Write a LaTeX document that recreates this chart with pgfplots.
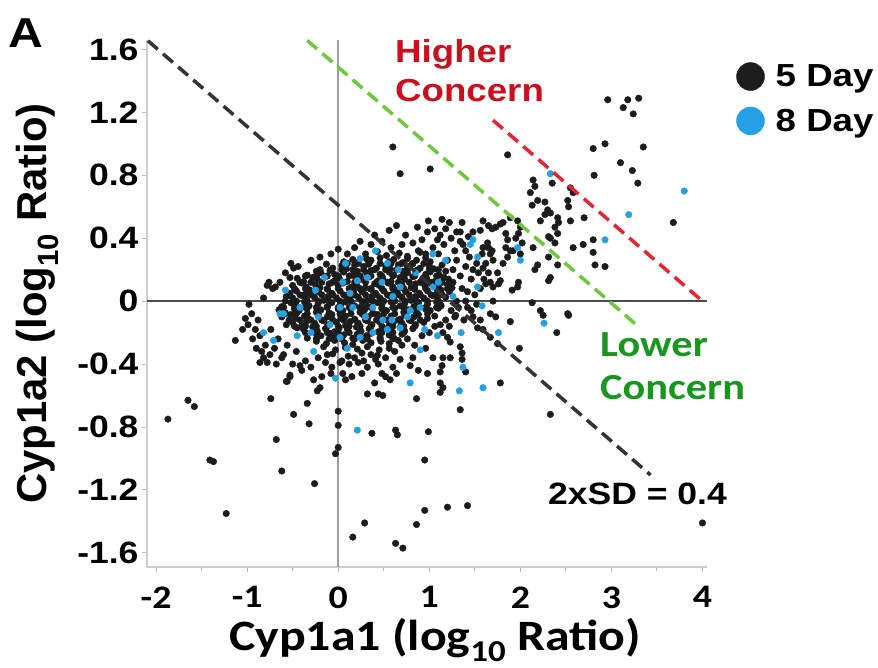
\documentclass[border=0pt]{standalone}
\usepackage{fontspec}
\usepackage{pgfplots}
\pgfplotsset{compat=1.18}
\setmainfont{Liberation Sans}
\newfontfamily\arialx[FakeStretch=1.15]{Liberation Sans}
\newfontfamily\calx[FakeStretch=1.15]{Carlito}
\newfontfamily\arialn{Liberation Sans}
\newcommand\fs[1]{\fontsize{#1}{#1}\selectfont}
\definecolor{dotblack}{RGB}{28,28,28}
\definecolor{dotblue}{RGB}{38,160,228}
\definecolor{refgreen}{RGB}{110,200,60}
\definecolor{refred}{RGB}{228,38,48}
\definecolor{txtred}{RGB}{200,16,30}
\definecolor{txtgreen}{RGB}{24,150,30}
\definecolor{axgray}{RGB}{205,205,205}

\begin{document}
\begin{tikzpicture}
\useasboundingbox (0,0) rectangle (878bp,668bp);
\begin{axis}[
    at={(147bp,101bp)}, anchor=south west,
    scale only axis, width=560bp, height=527bp,
    xmin=-2.1, xmax=4.05, ymin=-1.69, ymax=1.66,
    axis x line*=bottom, axis y line*=left,
    axis line style={-, draw=axgray, line width=1.5bp},
    tick style={draw=gray!55, line width=0.9bp},
    tick align=outside, major tick length=5bp, minor tick length=4bp,
    xtick={-2,-1,0,1,2,3,4}, xticklabels={-2,-1,0,1,2,3,4},
    minor x tick num=1,
    ytick={-1.6,-1.2,-0.8,-0.4,0,0.4,0.8,1.2,1.6},
    yticklabels={-1.6,-1.2,-0.8,-0.4,0,0.4,0.8,1.2,1.6},
    xticklabel style={font=\calx\bfseries\fs{33}, yshift=-11bp},
    yticklabel style={font=\arialx\bfseries\fs{31}},
    xlabel={Cyp1a1 (log\textsubscript{10} Ratio)},
    ylabel={Cyp1a2 (log\textsubscript{10} Ratio)},
    xlabel style={at={(axis description cs:0.514,-0.1575)}, anchor=base, font=\calx\bfseries\fs{43.5}},
    ylabel style={at={(axis description cs:-0.1786,0.50)}, anchor=base, font=\arialn\bfseries\fs{42}},
    clip mode=individual,
    legend style={at={(axis description cs:1.052,0.958)}, anchor=north west,
        draw=none, fill=none, inner sep=0pt, row sep=16bp,
        font=\arialx\bfseries\fs{32}},
    legend cell align=left,
    legend image code/.code={\fill[#1] (14bp,0bp) circle (14bp); \path (37bp,0bp);},
    dots/.style={only marks, mark=*, mark size=3.3bp, mark options={draw=none}},
]
% zero lines
\addplot[forget plot, color=gray!75, line width=2.5bp] coordinates {(0,-1.69) (0,1.66)};
\addplot[forget plot, color=black!70, line width=1.5bp] coordinates {(-2.1,0) (4.05,0)};

% 5 day: dense core of the cloud
\addplot[dots, color=dotblack] coordinates {
(0.30,0.30) (0.43,0.315) (0.53,0.29) (0.67,0.305) (0.76,0.285) (0.90,0.31)
(0.06,0.25) (0.16,0.265) (0.21,0.245) (0.31,0.27) (0.36,0.26) (0.46,0.275) (0.56,0.25) (0.61,0.265) (0.71,0.245) (0.76,0.27) (0.86,0.26) (0.96,0.275) (1.01,0.25)
(-0.13,0.235) (-0.06,0.21) (0.04,0.225) (0.09,0.205) (0.18,0.23) (0.28,0.22) (0.33,0.235) (0.42,0.21) (0.52,0.225) (0.57,0.205) (0.66,0.23) (0.76,0.22) (0.81,0.235) (0.90,0.21) (1.00,0.225) (1.05,0.205) (1.14,0.23)
(-0.34,0.165) (-0.24,0.19) (-0.19,0.18) (-0.09,0.195) (-0.04,0.17) (0.06,0.185) (0.16,0.165) (0.21,0.19) (0.31,0.18) (0.36,0.195) (0.46,0.17) (0.56,0.185) (0.61,0.165) (0.71,0.19) (0.76,0.18) (0.86,0.195) (0.96,0.17) (1.01,0.185) (1.11,0.165) (1.18,0.19)
(-0.45,0.145) (-0.38,0.125) (-0.28,0.15) (-0.23,0.14) (-0.14,0.155) (-0.04,0.13) (0.01,0.145) (0.10,0.125) (0.20,0.15) (0.25,0.14) (0.34,0.155) (0.44,0.13) (0.49,0.145) (0.58,0.125) (0.68,0.15) (0.73,0.14) (0.82,0.155) (0.92,0.13) (0.97,0.145) (1.06,0.125) (1.16,0.15) (1.21,0.14)
(-0.50,0.10) (-0.40,0.115) (-0.35,0.09) (-0.25,0.105) (-0.20,0.085) (-0.10,0.11) (0.00,0.10) (0.05,0.115) (0.15,0.09) (0.20,0.105) (0.30,0.085) (0.40,0.11) (0.45,0.10) (0.55,0.115) (0.60,0.09) (0.70,0.105) (0.80,0.085) (0.85,0.11) (0.95,0.10) (1.00,0.115) (1.10,0.09) (1.20,0.105) (1.25,0.085)
(-0.53,0.05) (-0.46,0.065) (-0.36,0.045) (-0.31,0.07) (-0.22,0.06) (-0.12,0.075) (-0.07,0.05) (0.02,0.065) (0.12,0.045) (0.17,0.07) (0.26,0.06) (0.36,0.075) (0.41,0.05) (0.50,0.065) (0.60,0.045) (0.65,0.07) (0.74,0.06) (0.84,0.075) (0.89,0.05) (0.98,0.065) (1.08,0.045) (1.13,0.07) (1.22,0.06)
(-0.57,0.03) (-0.50,0.02) (-0.40,0.035) (-0.35,0.01) (-0.26,0.025) (-0.16,0.005) (-0.11,0.03) (-0.02,0.02) (0.08,0.035) (0.13,0.01) (0.22,0.025) (0.32,0.005) (0.37,0.03) (0.46,0.02) (0.56,0.035) (0.61,0.01) (0.70,0.025) (0.80,0.005) (0.85,0.03) (0.94,0.02) (1.04,0.035) (1.09,0.01) (1.18,0.025)
(-0.62,-0.035) (-0.52,-0.01) (-0.47,-0.02) (-0.37,-0.005) (-0.32,-0.03) (-0.22,-0.015) (-0.12,-0.035) (-0.07,-0.01) (0.03,-0.02) (0.08,-0.005) (0.18,-0.03) (0.28,-0.015) (0.33,-0.035) (0.43,-0.01) (0.48,-0.02) (0.58,-0.005) (0.68,-0.03) (0.73,-0.015) (0.83,-0.035) (0.88,-0.01) (0.98,-0.02) (1.08,-0.005) (1.13,-0.03)
(-0.65,-0.055) (-0.58,-0.075) (-0.48,-0.05) (-0.43,-0.06) (-0.34,-0.045) (-0.24,-0.07) (-0.19,-0.055) (-0.10,-0.075) (0.00,-0.05) (0.05,-0.06) (0.14,-0.045) (0.24,-0.07) (0.29,-0.055) (0.38,-0.075) (0.48,-0.05) (0.53,-0.06) (0.62,-0.045) (0.72,-0.07) (0.77,-0.055) (0.86,-0.075) (0.96,-0.05) (1.01,-0.06) (1.10,-0.045)
(-0.62,-0.10) (-0.52,-0.085) (-0.47,-0.11) (-0.37,-0.095) (-0.32,-0.115) (-0.22,-0.09) (-0.12,-0.10) (-0.07,-0.085) (0.03,-0.11) (0.08,-0.095) (0.18,-0.115) (0.28,-0.09) (0.33,-0.10) (0.43,-0.085) (0.48,-0.11) (0.58,-0.095) (0.68,-0.115) (0.73,-0.09) (0.83,-0.10) (0.88,-0.085) (0.98,-0.11) (1.06,-0.095)
(-0.57,-0.15) (-0.50,-0.135) (-0.40,-0.155) (-0.35,-0.13) (-0.26,-0.14) (-0.16,-0.125) (-0.11,-0.15) (-0.02,-0.135) (0.08,-0.155) (0.13,-0.13) (0.22,-0.14) (0.32,-0.125) (0.37,-0.15) (0.46,-0.135) (0.56,-0.155) (0.61,-0.13) (0.70,-0.14) (0.80,-0.125) (0.85,-0.15) (0.94,-0.135)
(-0.45,-0.17) (-0.38,-0.18) (-0.28,-0.165) (-0.23,-0.19) (-0.14,-0.175) (-0.04,-0.195) (0.01,-0.17) (0.10,-0.18) (0.20,-0.165) (0.25,-0.19) (0.34,-0.175) (0.44,-0.195) (0.49,-0.17) (0.58,-0.18) (0.68,-0.165) (0.73,-0.19) (0.82,-0.175)
(-0.34,-0.235) (-0.24,-0.21) (-0.19,-0.22) (-0.09,-0.205) (-0.04,-0.23) (0.06,-0.215) (0.16,-0.235) (0.21,-0.21) (0.31,-0.22) (0.36,-0.205) (0.46,-0.23) (0.56,-0.215) (0.61,-0.235) (0.70,-0.21)
(-0.24,-0.255) (-0.13,-0.27) (-0.04,-0.25) (0.07,-0.265) (0.16,-0.275) (0.27,-0.25) (0.36,-0.265) (0.47,-0.255) (0.56,-0.27) (0.66,-0.25)
(-0.16,-0.29) (-0.03,-0.31) (0.08,-0.295) (0.21,-0.305) (0.32,-0.29) (0.45,-0.31) (0.56,-0.30)
(-0.06,-0.335) (0.11,-0.35) (0.26,-0.33) (0.43,-0.345)
(0.10,0.24) (0.22,0.24) (0.34,0.24) (0.46,0.24) (0.58,0.24) (0.70,0.24) (0.82,0.24) (0.94,0.24)
(-0.20,0.20) (-0.08,0.20) (0.04,0.20) (0.16,0.20) (0.28,0.20) (0.40,0.20) (0.52,0.20) (0.64,0.20) (0.76,0.20) (0.88,0.20) (1.00,0.20) (1.10,0.20)
(-0.36,0.16) (-0.24,0.16) (-0.12,0.16) (0.00,0.16) (0.12,0.16) (0.24,0.16) (0.36,0.16) (0.48,0.16) (0.60,0.16) (0.72,0.16) (0.84,0.16) (0.96,0.16) (1.08,0.16)
(-0.42,0.12) (-0.30,0.12) (-0.18,0.12) (-0.06,0.12) (0.06,0.12) (0.18,0.12) (0.30,0.12) (0.42,0.12) (0.54,0.12) (0.66,0.12) (0.78,0.12) (0.90,0.12) (1.02,0.12) (1.14,0.12)
(-0.48,0.08) (-0.36,0.08) (-0.24,0.08) (-0.12,0.08) (0.00,0.08) (0.12,0.08) (0.24,0.08) (0.36,0.08) (0.48,0.08) (0.60,0.08) (0.72,0.08) (0.84,0.08) (0.96,0.08) (1.08,0.08) (1.20,0.08)
(-0.54,0.04) (-0.42,0.04) (-0.30,0.04) (-0.18,0.04) (-0.06,0.04) (0.06,0.04) (0.18,0.04) (0.30,0.04) (0.42,0.04) (0.54,0.04) (0.66,0.04) (0.78,0.04) (0.90,0.04) (1.02,0.04) (1.14,0.04)
(-0.58,0.00) (-0.46,0.00) (-0.34,0.00) (-0.22,0.00) (-0.10,0.00) (0.02,0.00) (0.14,0.00) (0.26,0.00) (0.38,0.00) (0.50,0.00) (0.62,0.00) (0.74,0.00) (0.86,0.00) (0.98,0.00) (1.10,0.00)
(-0.60,-0.04) (-0.48,-0.04) (-0.36,-0.04) (-0.24,-0.04) (-0.12,-0.04) (0.00,-0.04) (0.12,-0.04) (0.24,-0.04) (0.36,-0.04) (0.48,-0.04) (0.60,-0.04) (0.72,-0.04) (0.84,-0.04) (0.96,-0.04) (1.08,-0.04)
(-0.58,-0.08) (-0.46,-0.08) (-0.34,-0.08) (-0.22,-0.08) (-0.10,-0.08) (0.02,-0.08) (0.14,-0.08) (0.26,-0.08) (0.38,-0.08) (0.50,-0.08) (0.62,-0.08) (0.74,-0.08) (0.86,-0.08) (0.98,-0.08)
(-0.54,-0.12) (-0.42,-0.12) (-0.30,-0.12) (-0.18,-0.12) (-0.06,-0.12) (0.06,-0.12) (0.18,-0.12) (0.30,-0.12) (0.42,-0.12) (0.54,-0.12) (0.66,-0.12) (0.78,-0.12) (0.90,-0.12)
(-0.48,-0.16) (-0.36,-0.16) (-0.24,-0.16) (-0.12,-0.16) (0.00,-0.16) (0.12,-0.16) (0.24,-0.16) (0.36,-0.16) (0.48,-0.16) (0.60,-0.16) (0.72,-0.16) (0.84,-0.16)
(-0.36,-0.20) (-0.24,-0.20) (-0.12,-0.20) (0.00,-0.20) (0.12,-0.20) (0.24,-0.20) (0.36,-0.20) (0.48,-0.20) (0.60,-0.20) (0.72,-0.20)
(-0.24,-0.24) (-0.10,-0.24) (0.04,-0.24) (0.18,-0.24) (0.32,-0.24) (0.46,-0.24) (0.60,-0.24)
};
% 5 day: edge of the cloud and scattered points
\addplot[dots, color=dotblack, forget plot] coordinates {
(-0.95,-0.08) (-0.88,-0.12) (-0.82,0.02) (-0.86,-0.22) (-0.80,-0.28) (-0.74,-0.18) (-0.70,-0.30) (-0.66,-0.24) (-0.72,0.08) (-0.64,0.12)
(-0.60,-0.34) (-0.56,-0.28) (-0.50,-0.40) (-0.46,-0.32) (-0.58,0.18) (-0.52,0.24) (-0.44,0.22) (-0.40,-0.44) (-0.36,-0.38) (-0.30,-0.42)
(-0.90,-0.30) (-0.94,-0.24) (-1.05,-0.18) (-0.98,-0.02) (-0.76,0.12) (-0.68,-0.40)
(-0.30,0.26) (-0.20,0.28) (-0.08,0.30) (0.00,0.33) (0.10,0.30) (0.18,0.34) (0.24,0.38) (0.36,0.36) (0.48,0.38) (0.58,0.34)
(0.70,0.36) (0.74,0.42) (0.88,0.32) (0.96,0.30) (1.04,0.34) (1.10,0.30) (1.16,0.36) (0.40,0.42) (0.56,0.45) (0.64,0.48)
(1.26,0.20) (1.30,0.26) (1.34,0.16) (1.36,0.08) (1.30,0.00) (1.24,-0.06) (1.32,-0.04) (1.40,0.22) (1.44,0.28) (1.46,0.14)
(1.50,0.04) (1.42,0.06) (1.54,0.18) (1.52,0.24) (1.58,0.30) (1.28,0.32) (1.20,0.26) (1.18,-0.12) (1.22,-0.16) (1.06,-0.16)
(1.00,-0.20) (1.12,-0.02)
(-0.22,-0.36) (-0.12,-0.34) (0.04,-0.38) (0.12,-0.40) (0.18,-0.36) (0.28,-0.38) (0.36,-0.34) (0.44,-0.40) (0.52,-0.36) (0.62,-0.32)
(0.70,-0.28) (0.76,-0.24) (0.84,-0.28) (0.92,-0.22) (0.96,-0.30) (0.64,-0.46) (0.52,-0.48) (0.26,-0.46) (0.08,-0.50) (-0.08,-0.46)
(-0.18,-0.48) (0.82,-0.36) (0.40,-0.52)
(1.12,0.42) (1.18,0.46) (1.24,0.40) (1.30,0.44) (1.22,0.50) (1.36,0.50) (1.14,0.52) (1.06,0.46) (0.98,0.44) (1.40,0.32)
(1.48,0.20) (1.56,0.08) (1.60,0.14) (1.62,0.24) (1.70,0.26) (1.52,-0.02) (1.46,-0.06) (1.38,-0.12) (1.28,-0.10) (1.34,0.38)
(1.26,0.12) (1.40,0.00)
(-1.87,-0.75) (-1.65,-0.63) (-1.58,-0.67) (-1.41,-1.01) (-1.37,-1.02) (-1.23,-1.35) (-1.13,-0.25) (-0.74,-0.62) (-0.49,-0.72) (-0.68,-0.88)
(-0.62,-1.08) (-0.34,-0.65) (-0.32,-0.78) (-0.26,-1.16) (0.00,-0.70) (0.00,-0.79) (0.00,-0.93) (-0.03,-0.97) (0.37,-0.84) (0.63,-0.82)
(0.65,-0.85) (0.99,-0.83) (0.95,-1.01) (0.95,-1.33) (0.86,-1.42) (0.29,-1.41) (0.16,-1.50) (0.63,-1.54) (0.71,-1.57) (0.86,-0.62)
(0.32,-0.59) (0.44,-0.59) (0.49,-0.60) (-0.57,-0.51) (-0.53,-0.48) (-0.27,-0.50) (-0.23,-0.57) (-0.20,-0.55)
(4.00,-1.41) (1.20,-1.31) (1.42,-1.30) (2.33,-0.72) (1.34,-0.69) (1.78,-0.52) (1.99,-0.30) (2.40,-0.20) (2.53,-0.09) (1.89,-0.13)
(2.22,-0.06) (2.25,-0.09) (2.13,-0.01) (1.40,-0.45) (1.34,-0.29) (1.36,-0.33) (1.36,-0.37)
(2.96,1.28) (3.18,1.28) (3.30,1.29) (3.13,1.23) (3.24,1.19) (1.86,0.93) (2.80,0.97) (2.93,1.00) (3.35,0.98) (3.10,0.88)
(3.23,0.83) (3.29,0.75) (2.81,0.80) (3.68,0.50) (0.60,0.98) (0.68,0.81) (1.01,0.84)
(2.14,0.77) (2.16,0.73) (2.35,0.75) (2.11,0.69) (2.19,0.64) (2.13,0.61) (2.55,0.72) (2.58,0.69) (2.52,0.64) (2.53,0.60)
(2.27,0.63) (2.30,0.58) (2.27,0.55) (2.33,0.56) (2.41,0.53) (2.42,0.50) (2.38,0.47) (2.55,0.51) (2.70,0.53) (2.22,0.51)
(2.31,0.41) (2.33,0.40) (2.41,0.43) (2.38,0.37) (2.14,0.34) (2.58,0.34) (2.69,0.36) (2.80,0.39) (2.80,0.31) (2.82,0.23)
(2.93,0.22) (2.31,0.28) (2.41,0.23) (2.19,0.23) (2.16,0.20) (2.33,0.15) (2.31,0.13)
(1.97,0.51) (2.00,0.47) (1.98,0.43) (1.95,0.40) (2.02,0.37) (1.89,0.53) (1.59,0.51) (1.65,0.48) (1.69,0.46) (1.73,0.47)
(1.78,0.49) (1.81,0.50) (1.56,0.45) (1.48,0.44) (1.34,0.44) (1.43,0.41) (1.37,0.36) (1.64,0.37) (1.65,0.34) (1.67,0.30)
(1.59,0.34) (1.69,0.32) (1.84,0.43) (1.86,0.39) (1.84,0.34) (1.89,0.32) (2.00,0.30) (1.86,0.28) (1.81,0.24) (1.92,0.32)
(1.98,0.12) (1.97,0.09) (1.91,0.07) (1.75,0.18) (1.78,0.13) (1.70,0.09) (1.76,0.11) (1.59,0.21) (1.65,0.18) (1.62,0.11)
(1.67,0.12) (1.70,0.00) (1.67,-0.08) (1.73,-0.10) (2.52,-0.08)
(1.29,-0.09) (1.42,-0.04) (1.48,-0.10) (1.56,-0.12) (1.53,-0.17) (1.59,-0.18) (1.67,-0.23) (1.75,-0.27) (1.12,-0.15) (1.15,-0.20)
(1.20,-0.23) (1.23,-0.26) (1.15,-0.36) (1.14,-0.41) (1.12,-0.45) (1.15,-0.55) (1.12,-0.58) (1.23,-0.36)
(0.99,0.51) (0.87,0.47) (0.82,0.37) (0.92,0.39) (1.09,0.39) (-0.49,0.21) (-0.53,0.15) (-0.78,0.10) (-0.69,0.09) (-1.02,-0.11)
(-0.99,-0.15) (-0.91,-0.18) (-0.84,-0.32) (-0.82,-0.36) (-0.75,-0.34) (-0.86,-0.39) (-0.78,-0.39) (-0.62,-0.36) (-0.53,-0.47) (-0.56,-0.51)
(-0.42,-0.41) (-0.14,-0.39) (-0.07,-0.42) (0.02,-0.39) (0.05,-0.46) (0.15,-0.48) (0.22,-0.39) (0.32,-0.42) (0.41,-0.37) (0.48,-0.46)
(0.57,-0.50) (0.60,-0.42) (0.68,-0.37) (0.79,-0.41) (0.88,-0.44) (0.98,-0.46) (1.12,-0.52) (1.04,-0.36)
};
% 8 day
\addplot[dots, color=dotblue] coordinates {
(0.21,-0.82) (0.79,-0.52) (-0.03,-0.49) (-0.27,-0.32) (-0.71,-0.25) (-0.82,-0.20) (1.59,-0.55) (1.33,-0.57) (1.76,-0.20) (1.35,-0.20)
(2.26,-0.14) (1.37,-0.42) (3.80,0.70) (3.19,0.55) (2.33,0.81) (2.93,0.39) (1.53,0.28) (1.48,0.39) (1.45,0.36) (1.97,0.34)
(2.00,0.26) (1.53,0.09) (1.58,-0.03) (1.09,-0.22) (0.90,-0.31) (0.59,-0.12) (0.76,-0.10) (-0.64,-0.08) (-0.58,0.07) (-0.60,-0.08)
(0.08,0.24) (0.24,0.27) (0.41,0.32) (0.54,0.24) (1.04,0.30) (1.18,0.26) (-0.42,-0.04) (-0.25,0.07) (-0.22,-0.10) (-0.09,-0.15)
(0.02,-0.04) (0.13,0.05) (0.16,-0.04) (0.21,0.13) (0.32,0.15) (0.38,-0.04) (0.48,0.12) (0.49,-0.12) (0.60,0.03) (0.68,0.09)
(0.79,-0.06) (0.90,-0.04) (1.04,0.09) (1.26,0.03) (0.02,-0.23) (0.24,-0.23) (0.38,-0.20) (0.54,-0.18) (0.68,-0.17)
(-0.45,-0.22) (-0.15,0.15) (0.05,0.12) (0.30,-0.10) (0.66,0.20) (0.85,0.18) (1.10,0.12) (-0.30,-0.20) (0.10,-0.30) (0.95,-0.18)
};
\legend{5 Day, 8 Day}

% threshold lines
\addplot[forget plot, color=black!80, line width=3.5bp, dash pattern=on 13bp off 7bp] coordinates {(-2.09,1.655) (3.43,-1.105)};
\addplot[forget plot, color=refgreen, line width=3.5bp, dash pattern=on 13bp off 7bp] coordinates {(-0.34,1.657) (3.26,-0.143)};
\addplot[forget plot, color=refred, line width=3.5bp, dash pattern=on 13bp off 7bp] coordinates {(1.70,1.15) (4.01,-0.005)};
\end{axis}

\node[anchor=base west, inner sep=0pt, font=\arialx\bfseries\fs{42}] at (8bp,620bp) {A};
\node[anchor=base west, inner sep=0pt, text=txtred, font=\arialx\bfseries\fs{32}] at (395bp,605bp) {Higher};
\node[anchor=base west, inner sep=0pt, text=txtred, font=\arialx\bfseries\fs{32}] at (395bp,566bp) {Concern};
\node[anchor=base west, inner sep=0pt, text=txtgreen, font=\calx\bfseries\fs{37}] at (600bp,311bp) {Lower};
\node[anchor=base west, inner sep=0pt, text=txtgreen, font=\calx\bfseries\fs{37}] at (600bp,268bp) {Concern};
\node[anchor=base west, inner sep=0pt, font=\arialx\bfseries\fs{31}] at (548bp,163bp) {2xSD = 0.4};
\end{tikzpicture}
\end{document}
